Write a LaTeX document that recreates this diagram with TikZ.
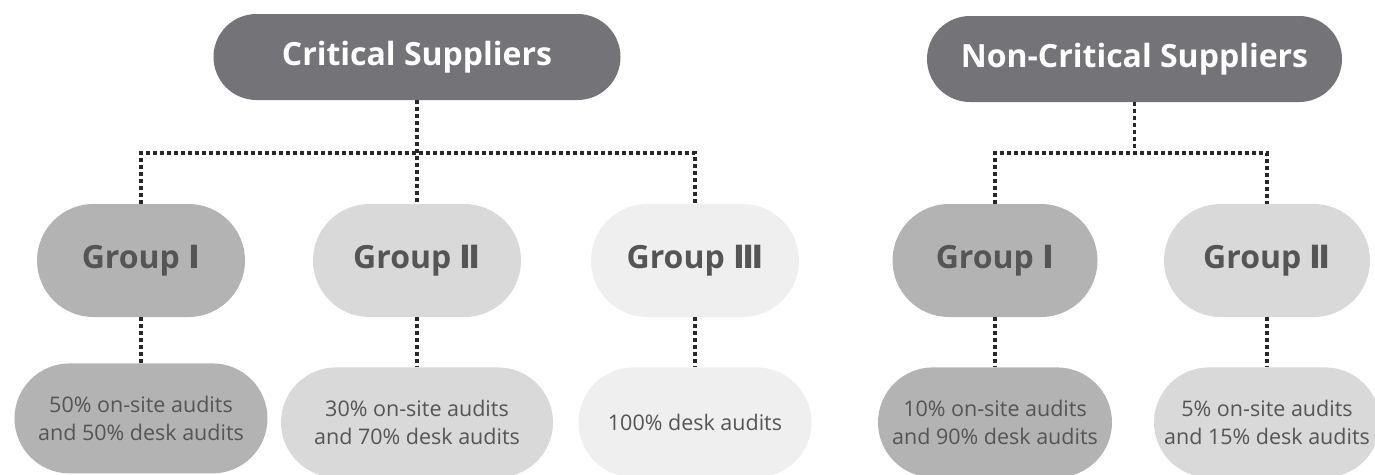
\documentclass[tikz,border=0pt]{standalone}
\usepackage{fontspec}
\setmainfont{Open Sans}
\newfontfamily\romanfont{DejaVu Sans}
\usepackage{tikz}
\usetikzlibrary{positioning}
\definecolor{headgray}{RGB}{116,115,120}
\definecolor{groupdark}{RGB}{179,179,179}
\definecolor{groupmid}{RGB}{217,217,217}
\definecolor{grouplight}{RGB}{239,239,239}
\definecolor{textgray}{RGB}{85,85,85}
\definecolor{linkgray}{RGB}{40,40,40}
\newcommand{\grp}[1]{Group {\romanfont #1}}

\begin{document}
\begin{tikzpicture}[
    x=1pt, y=-1pt,
    node distance=46pt and 20pt,
    head/.style={fill=headgray, rectangle, rounded corners=43pt, minimum height=86pt, inner sep=0pt, text=white, font=\bfseries\fontsize{32}{38}\selectfont},
    group/.style={rectangle, rounded corners=56.5pt, minimum height=113pt, minimum width=208pt, inner sep=0pt, text=textgray, font=\bfseries\fontsize{32}{38}\selectfont},
    share/.style={rectangle, rounded corners=55pt, minimum height=110pt, inner sep=0pt, align=center, text=textgray, font=\fontsize{21.5}{28}\selectfont},
    link/.style={draw=linkgray, line width=3.4pt, dash pattern=on 3.4pt off 3.6pt}
]
    \useasboundingbox (0,0) rectangle (1375,474);
    \clip (0,0) rectangle (1375,474);

    % Nodes
    \node (crit) [head, minimum width=407pt] at (417,57) {Critical Suppliers};
    \node (noncrit) [head, minimum width=415pt] at (1134.5,59) {Non-Critical Suppliers};

    \node (cg1) [group, fill=groupdark] at (141,260.5) {\grp{Ⅰ}};
    \node (cg2) [group, fill=groupmid] at (417,260.5) {\grp{Ⅱ}};
    \node (cg3) [group, fill=grouplight] at (695,260.5) {\grp{Ⅲ}};
    \node (ng1) [group, fill=groupdark, minimum width=205pt] at (995,260.5) {\grp{Ⅰ}};
    \node (ng2) [group, fill=groupmid, minimum width=206pt] at (1267,260.5) {\grp{Ⅱ}};

    \node (cs1) [share, fill=groupdark, minimum width=253pt, below=46pt of cg1] {50\% on-site audits\\and 50\% desk audits};
    \node (cs2) [share, fill=groupmid, minimum width=272pt, below=50pt of cg2] {30\% on-site audits\\and 70\% desk audits};
    \node (cs3) [share, fill=grouplight, minimum width=233pt, below=50pt of cg3] {100\% desk audits};
    \node (ns1) [share, fill=groupdark, minimum width=234pt, below=50pt of ng1] {10\% on-site audits\\and 90\% desk audits};
    \node (ns2) [share, fill=groupmid, minimum width=226pt, below=50pt of ng2] {5\% on-site audits\\and 15\% desk audits};

    \coordinate (cjoin) at (417,153);
    \coordinate (njoin) at (1134.5,153);

    % Connectors
    \draw [link] (crit.south) -- (cg2.north);
    \draw [link] (cg1.north) |- (cjoin) -| (cg3.north);
    \draw [link] (noncrit.south) -- (njoin);
    \draw [link] (ng1.north) |- (njoin) -| (ng2.north);

    \draw [link] (cg1) -- (cs1);
    \draw [link] (cg2) -- (cs2);
    \draw [link] (cg3) -- (cs3);
    \draw [link] (ng1) -- (ns1);
    \draw [link] (ng2) -- (ns2);
\end{tikzpicture}
\end{document}
